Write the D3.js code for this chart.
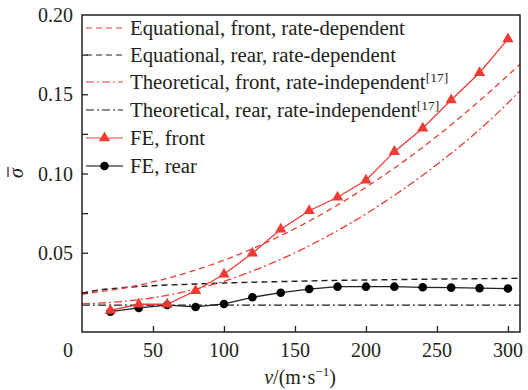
<!DOCTYPE html>
<html>
<head>
<meta charset="utf-8">
<script src="https://cdn.jsdelivr.net/npm/d3@7"></script>
<style>
body { margin: 0; background: #fff; }
text { font-family: "Liberation Serif", "Times New Roman", serif; fill: #231f20; }
</style>
</head>
<body>
<div id="chart"></div>
<script>
// v samples (m/s)
var feV = [20, 40, 60, 80, 100, 120, 140, 160, 180, 200, 220, 240, 260, 280, 300];
var feFront = [0.0136, 0.0175, 0.0175, 0.026, 0.0364, 0.0497, 0.0648, 0.0765, 0.085, 0.0957, 0.1138, 0.1286, 0.1464, 0.1636, 0.1848];
var feRear = [0.0128, 0.0152, 0.017, 0.0158, 0.0177, 0.0219, 0.0248, 0.0271, 0.0286, 0.0286, 0.0286, 0.0282, 0.028, 0.0277, 0.0274];

var curveV = [0, 10, 25, 50, 75, 100, 125, 150, 175, 200, 225, 250, 275, 300, 310];
var eqFront = [0.0238, 0.0251, 0.027, 0.0316, 0.0377, 0.0453, 0.0545, 0.0652, 0.0775, 0.0913, 0.1066, 0.1235, 0.142, 0.1619, 0.1702];
var eqRear = [0.0245, 0.0262, 0.0277, 0.0292, 0.0301, 0.0309, 0.0315, 0.032, 0.0325, 0.0328, 0.0331, 0.0334, 0.0336, 0.0338, 0.0339];
var thFront = [0.0178, 0.0181, 0.019, 0.0216, 0.026, 0.032, 0.0402, 0.0500, 0.0615, 0.0745, 0.0893, 0.1057, 0.1238, 0.1445, 0.1535];
var thRear = [0.017, 0.017, 0.017, 0.017, 0.017, 0.017, 0.017, 0.017, 0.017, 0.017, 0.017, 0.017, 0.017, 0.017, 0.017];

var xTicks = [50, 100, 150, 200, 250, 300];
var yTicks = [0.025, 0.05, 0.075, 0.1, 0.125, 0.15, 0.175];
var yLabels = [0.05, 0.1, 0.15, 0.2];

var red = "#ee3b34";
var dark = "#231f20";

var width = 528, height = 390;
var padL = 82, padR = 520, padT = 15, padB = 332;

var svg = d3.select("#chart").append("svg")
	.attr("width", width)
	.attr("height", height);

var x = d3.scaleLinear().domain([0, 308.5]).range([padL, padR]);
var y = d3.scaleLinear().domain([0, 0.2]).range([padB, padT]);

svg.append("clipPath").attr("id", "clip")
	.append("rect")
	.attr("x", padL).attr("y", padT)
	.attr("width", padR - padL).attr("height", padB - padT);

var plot = svg.append("g").attr("clip-path", "url(#clip)");

function pairs(vs, ys) {
	return vs.map(function (v, i) { return [v, ys[i]]; });
}
var line = d3.line().x(function (d) { return x(d[0]); }).y(function (d) { return y(d[1]); });
var smooth = d3.line().curve(d3.curveMonotoneX).x(function (d) { return x(d[0]); }).y(function (d) { return y(d[1]); });

// analytic curves
plot.append("path").attr("d", smooth(pairs(curveV, thRear)))
	.attr("fill", "none").attr("stroke", dark).attr("stroke-width", 1.3)
	.attr("stroke-dasharray", "8,3,2,3");
plot.append("path").attr("d", smooth(pairs(curveV, eqRear)))
	.attr("fill", "none").attr("stroke", dark).attr("stroke-width", 1.4)
	.attr("stroke-dasharray", "6,4");
plot.append("path").attr("d", smooth(pairs(curveV, thFront)))
	.attr("fill", "none").attr("stroke", red).attr("stroke-width", 1.3)
	.attr("stroke-dasharray", "8,3,2,3");
plot.append("path").attr("d", smooth(pairs(curveV, eqFront)))
	.attr("fill", "none").attr("stroke", red).attr("stroke-width", 1.3)
	.attr("stroke-dasharray", "6,4");

// FE rear
plot.append("path").attr("d", line(pairs(feV, feRear)))
	.attr("fill", "none").attr("stroke", dark).attr("stroke-width", 1.3);
plot.selectAll(".dotR").data(pairs(feV, feRear)).enter().append("circle")
	.attr("cx", function (d) { return x(d[0]); })
	.attr("cy", function (d) { return y(d[1]); })
	.attr("r", 4.3).attr("fill", "#000");

// FE front
plot.append("path").attr("d", line(pairs(feV, feFront)))
	.attr("fill", "none").attr("stroke", red).attr("stroke-width", 1.3);
var tri = d3.symbol().type(d3.symbolTriangle).size(55);
plot.selectAll(".triF").data(pairs(feV, feFront)).enter().append("path")
	.attr("d", tri)
	.attr("transform", function (d) { return "translate(" + x(d[0]) + "," + y(d[1]) + ")"; })
	.attr("fill", red);

// frame
svg.append("rect")
	.attr("x", padL).attr("y", padT)
	.attr("width", padR - padL).attr("height", padB - padT)
	.attr("fill", "none").attr("stroke", dark).attr("stroke-width", 1.5);

// axes with inward ticks
var xAxis = svg.append("g").attr("transform", "translate(0," + padB + ")")
	.call(d3.axisTop(x).tickValues(xTicks).tickSize(6).tickFormat(""));
xAxis.select(".domain").remove();
xAxis.selectAll("line").attr("stroke", dark).attr("stroke-width", 1.3);
svg.selectAll(".xlab").data(xTicks).enter().append("text")
	.attr("x", function (d) { return x(d); })
	.attr("y", 357)
	.attr("text-anchor", "middle")
	.style("font-size", "20px")
	.text(function (d) { return d; });
svg.append("text").attr("x", 68).attr("y", 357)
	.attr("text-anchor", "middle").style("font-size", "20px").text("0");

var yAxis = svg.append("g").attr("transform", "translate(" + padL + ",0)")
	.call(d3.axisRight(y).tickValues(yTicks).tickSize(6).tickFormat(""));
yAxis.select(".domain").remove();
yAxis.selectAll("line").attr("stroke", dark).attr("stroke-width", 1.3);
svg.selectAll(".ylab").data(yLabels).enter().append("text")
	.attr("x", 73)
	.attr("y", function (d) { return y(d); })
	.attr("dy", "0.35em")
	.attr("text-anchor", "end")
	.style("font-size", "20px")
	.text(function (d) { return d3.format(".2f")(d); });

// axis titles
var xt = svg.append("text").attr("x", 300).attr("y", 384)
	.attr("text-anchor", "middle").style("font-size", "20px");
xt.append("tspan").style("font-style", "italic").text("v");
xt.append("tspan").text("/(m·s");
xt.append("tspan").attr("dy", -8).style("font-size", "13px").text("−1");
xt.append("tspan").attr("dy", 8).text(")");

var yt = svg.append("g").attr("transform", "translate(23,173) rotate(-90)");
yt.append("text").attr("x", 0).attr("y", 0)
	.attr("text-anchor", "middle").style("font-size", "20px")
	.style("font-style", "italic").text("σ");
yt.append("line").attr("x1", -4).attr("x2", 6).attr("y1", -15).attr("y2", -15)
	.attr("stroke", dark).attr("stroke-width", 1.2);

// legend
var legend = [
	{ label: "Equational, front, rate-dependent", color: red, dash: "6,4", sup: "" },
	{ label: "Equational, rear, rate-dependent", color: dark, dash: "6,4", sup: "" },
	{ label: "Theoretical, front, rate-independent", color: red, dash: "8,3,2,3", sup: "[17]" },
	{ label: "Theoretical, rear, rate-independent", color: dark, dash: "8,3,2,3", sup: "[17]" },
	{ label: "FE, front", color: red, dash: null, sup: "", marker: "tri" },
	{ label: "FE, rear", color: "#000", dash: null, sup: "", marker: "dot" }
];
var legY = [28, 55, 82, 110, 138, 166];
legend.forEach(function (d, i) {
	var g = svg.append("g").attr("transform", "translate(0," + legY[i] + ")");
	g.append("line").attr("x1", 86).attr("x2", 123).attr("y1", 0).attr("y2", 0)
		.attr("stroke", d.color).attr("stroke-width", 1.2)
		.attr("stroke-dasharray", d.dash);
	if (d.marker === "tri") {
		g.append("path").attr("d", tri).attr("transform", "translate(104.5,0)").attr("fill", d.color);
	}
	if (d.marker === "dot") {
		g.append("circle").attr("cx", 104.5).attr("cy", 0).attr("r", 4.3).attr("fill", d.color);
	}
	var t = g.append("text").attr("x", 130).attr("y", 0).attr("dy", "0.35em")
		.style("font-size", "20.8px").text(d.label);
	if (d.sup) {
		t.append("tspan").attr("dy", "-0.55em").style("font-size", "13.5px").text(d.sup);
	}
});
</script>
</body>
</html>
